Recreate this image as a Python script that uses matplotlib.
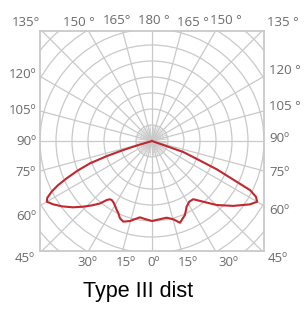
import numpy as np
import matplotlib
matplotlib.use('Agg')
import matplotlib.pyplot as plt
from matplotlib.patches import Circle

W, H = 304, 316

# Light distribution, angle from nadir (deg) and relative intensity (grid rings = 1 unit)
RIGHT_ANGLE = [72, 70.6, 67.8, 66.4, 64.3, 63.4, 61.8, 60, 57.1, 51.4, 45.3, 40.2,
               35.3, 31.6, 27.8, 24, 18.9, 15.2, 10.8, 5, 0]
RIGHT_INT = [0, 2.07, 3.24, 4.41, 5.87, 6.85, 7.37, 7.59, 7.29, 6.5, 5.69, 4.97,
             4.46, 4.45, 4.64, 5.06, 5.4, 5.07, 4.88, 4.92, 5.0]
LEFT_ANGLE = [0, 5, 9, 12, 15.4, 19.6, 22.5, 25, 27.1, 31.4, 34, 35.8, 37.5, 39.8,
              43, 46.3, 50, 54, 57.3, 60, 61.5, 63.2, 64.8, 66.4, 68.3, 70.2,
              71.5, 72.6, 73.5, 74.5]
LEFT_INT = [5.0, 4.9, 4.83, 4.98, 5.19, 5.35, 5.23, 4.98, 4.84, 4.56, 4.47, 4.49,
            4.65, 5.08, 5.5, 5.94, 6.45, 6.95, 7.33, 7.59, 7.45, 7.03, 6.5, 5.82,
            5.0, 4.12, 3.0, 1.88, 0.9, 0]

TITLE = 'Type III dist'

# tick labels: (text, x px, y px)
TOP_LABELS = [('135°', 26, 23), ('150 °', 79, 22), ('165°', 117, 21), ('180 °', 154, 21),
              ('165 °', 193, 22), ('150 °', 226, 21), ('135 °', 283, 23)]
LEFT_LABELS = [('120º', 36, 74), ('105º', 36, 111), ('90º', 36, 142),
               ('75º', 36, 173), ('60º', 36, 217)]
RIGHT_LABELS = [('120 °', 269, 70), ('105 °', 269, 107), ('90º', 269, 139),
                ('75º', 269, 173), ('60º', 269, 210)]
BOTTOM_LABELS = [('45º', 25, 258), ('30º', 87, 262), ('15º', 126, 262), ('0º', 154, 262),
                 ('15º', 188, 262), ('30º', 228, 262), ('45º', 278, 258)]

GRID = '#c9c9c9'
LABEL = '#6a6a6a'
RED = '#c1272d'

fig = plt.figure(figsize=(W / 100, H / 100), dpi=100)
ax = fig.add_axes([40 / W, 65 / H, 224 / W, 220 / H])
ax.set_xlim(-7, 7)
ax.set_ylim(-6.875, 6.875)
ax.set_xticks([])
ax.set_yticks([])
for s in ax.spines.values():
    s.set_color(GRID)
    s.set_linewidth(1.3)

for r in range(1, 11):
    ax.add_patch(Circle((0, 0), r, fill=False, ec=GRID, lw=0.9))
for a in np.arange(0, 360, 15):
    t = np.radians(a)
    ax.plot([0, 12 * np.sin(t)], [0, 12 * np.cos(t)], color=GRID, lw=0.9)
# fine fan of spokes around the centre
for a in np.arange(0, 360, 7.5):
    t = np.radians(a)
    ax.plot([0, 0.95 * np.sin(t)], [0, 0.95 * np.cos(t)], color=GRID, lw=0.6)

ang = np.radians(np.concatenate([RIGHT_ANGLE, -np.array(LEFT_ANGLE)]))
inten = np.concatenate([RIGHT_INT, LEFT_INT])
ax.plot(inten * np.sin(ang), -inten * np.cos(ang), color=RED, lw=1.5,
        solid_joinstyle='round')

font = dict(family='Open Sans', fontsize=9.5, color=LABEL)
for txt, x, y in TOP_LABELS + BOTTOM_LABELS:
    fig.text(x / W, 1 - y / H, txt, ha='center', va='center', **font)
for txt, x, y in LEFT_LABELS:
    fig.text(x / W, 1 - y / H, txt, ha='right', va='center', **font)
for txt, x, y in RIGHT_LABELS:
    fig.text(x / W, 1 - y / H, txt, ha='left', va='center', **font)

fig.text(138 / W, 1 - 297 / H, TITLE, ha='center', va='baseline',
         family='Liberation Sans', fontsize=15.5, color='black')

fig.savefig('out.png', dpi=100)
